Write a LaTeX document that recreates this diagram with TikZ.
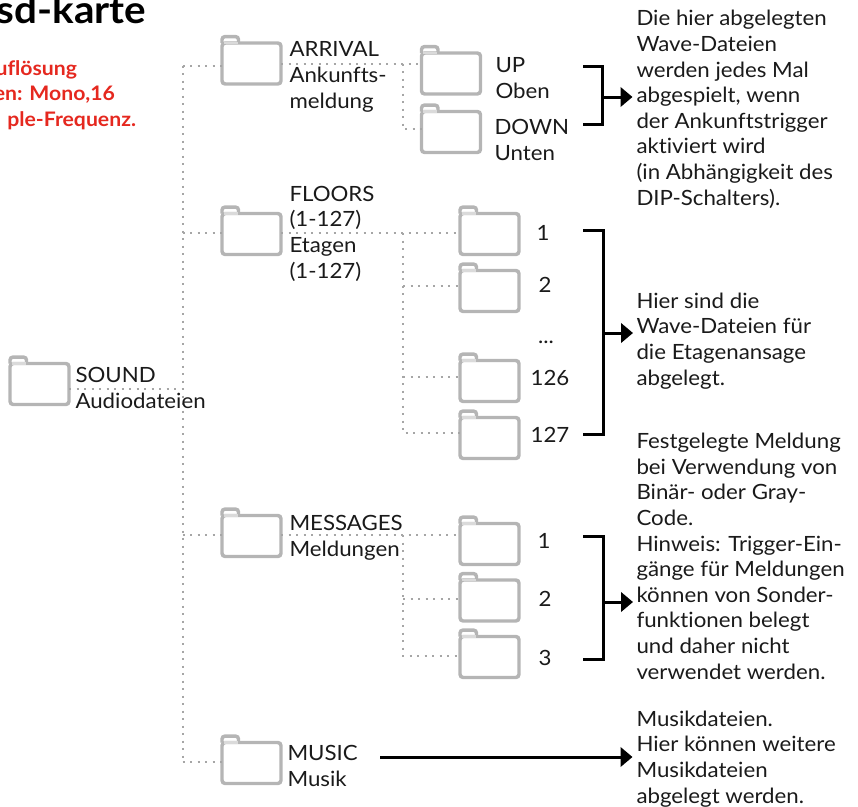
\documentclass[tikz,border=0pt]{standalone}
\usepackage{fontspec}
\setmainfont{Lato}[FakeStretch=1.06,Ligatures=NoCommon]
\usetikzlibrary{arrows.meta}
\definecolor{folderc}{HTML}{B5B5B5}
\definecolor{tablight}{HTML}{DADADA}
\definecolor{dotc}{HTML}{A6A6A6}
\definecolor{textc}{HTML}{1A1A1A}
\definecolor{redc}{HTML}{E5281F}
\tikzset{
  x=0.75pt,y=-0.75pt,
  folderbody/.style={draw=folderc,fill=white,line width=2.6pt,rounded corners=2.4pt,minimum width=44.25pt,minimum height=30.75pt,inner sep=0pt,outer sep=0pt},
  foldertab/.style={draw=folderc,line width=2.6pt,rounded corners=2.2pt},
  tabline/.style={draw=tablight,line width=1.6pt},
  dotline/.style={draw=dotc,line width=1.5pt,dash pattern=on 1.5pt off 4.125pt},
  bracketline/.style={draw=black,line width=2.25pt},
  arrowline/.style={draw=black,line width=2.25pt,-{Triangle[length=9pt,width=14.5pt]}},
  lbl/.style={inner sep=0pt,outer sep=0pt,anchor=base west,align=left,text=textc,font=\fontsize{15.75}{19.2}\selectfont},
  num/.style={inner sep=0pt,outer sep=0pt,anchor=base,text=textc,font=\fontsize{15.75}{19.2}\selectfont},
  redtxt/.style={inner sep=0pt,outer sep=0pt,anchor=base east,text=redc,font=\fontsize{15}{19}\selectfont\bfseries},
  titletxt/.style={inner sep=0pt,outer sep=0pt,anchor=base east,text=black,font=\fontsize{28.6}{32}\selectfont\bfseries},
}
\begin{document}
\begin{tikzpicture}
\useasboundingbox (0,0) rectangle (858,807);
\node[titletxt] (title) at (146,23) {sd-karte};
\node[redtxt] (red1) at (77,75) {uflösung};
\node[redtxt] (red2) at (115,100) {en: Mono,16};
\node[redtxt] (red3) at (136,126) {ple-Frequenz.};
% folders
\foreach \n/\x/\y in {sound/39.5/384,arrival/251.5/63.5,floors/251.5/234,messages/251.5/536,music/251.5/763,
  up/451/73.5,down/451/132,
  fa/489.5/234,fb/489.5/291,fc/489.5/381,fd/489.5/438,
  ma/489.5/544,mb/489.5/600.5,mc/489.5/657}{
  \node[folderbody] (\n) at (\x,\y) {};
  \draw[foldertab] (\n.north west) -- ++(0,-6.4) -- ++(16.5,0) -- ++(0,6.4);
  \draw[tabline] ([xshift=1.4pt]\n.north west) -- ++(14,0);
}
% trunk
\coordinate (tA) at (182.5,65.5);
\coordinate (tS) at (182.5,388.7);
\coordinate (tF) at (182.5,233);
\coordinate (tM) at (182.5,535);
\coordinate (tZ) at (182.5,762);
\draw[dotline] (tA) -- (tZ);
\draw[dotline] (tA) -- (tA -| arrival.west);
\draw[dotline] (tF) -- (tF -| floors.west);
\draw[dotline] (tM) -- (tM -| messages.west);
\draw[dotline] (tZ) -- (tZ -| music.west);
\draw[dotline] (tS -| sound.east) -- (tS);
% arrival branch
\coordinate (aT) at (403,63.5);
\coordinate (aD) at (403,129);
\draw[dotline] (aT -| arrival.east) -- (aT -| up.west);
\draw[dotline] (aT) -- (aD) -- (aD -| down.west);
% floors branch
\coordinate (fT) at (403,233);
\coordinate (fB) at (403,286);
\coordinate (fC) at (403,377);
\coordinate (fD) at (403,433);
\draw[dotline] (fT -| floors.east) -- (fT -| fa.west);
\draw[dotline] (fT) -- (fD) -- (fD -| fd.west);
\draw[dotline] (fB) -- (fB -| fb.west);
\draw[dotline] (fC) -- (fC -| fc.west);
% messages branch
\coordinate (mT) at (403,535);
\coordinate (mB) at (403,599);
\coordinate (mC) at (403,656);
\draw[dotline] (mT -| messages.east) -- (mT -| ma.west);
\draw[dotline] (mT) -- (mC) -- (mC -| mc.west);
\draw[dotline] (mB) -- (mB -| mb.west);
% labels
\node[lbl] (tsound) at (75.5,408) {SOUND\\Audiodateien};
\node[lbl] (tarrival) at (289.5,108) {ARRIVAL\\Ankunfts-\\meldung};
\node[lbl] (tfloors) at (289.5,278) {FLOORS\\(1-127)\\Etagen\\(1-127)};
\node[lbl] (tmessages) at (289.5,556) {MESSAGES\\Meldungen};
\node[lbl] (tmusic) at (287.5,786) {MUSIC\\Musik};
\node[lbl] (tup) at (495.5,98) {UP\\Oben};
\node[lbl] (tdown) at (494.5,160) {DOWN\\Unten};
\node[num] (na) at (543,240) {1};
\node[num] (nb) at (545,292) {2};
\node[num] (nc) at (546,343) {...};
\node[num] (nd) at (550,385) {126};
\node[num] (ne) at (550,442) {127};
\node[num] (oa) at (544,548) {1};
\node[num] (ob) at (545,606) {2};
\node[num] (oc) at (545,665) {3};
% right-hand texts
\node[lbl] (d1) at (636.5,205) {Die hier abgelegten\\Wave-Dateien\\werden jedes Mal\\abgespielt, wenn\\der Ankunftstrigger\\aktiviert wird\\(in Abhängigkeit des\\DIP-Schalters).};
\node[lbl] (d2) at (636.5,385) {Hier sind die\\Wave-Dateien für\\die Etagenansage\\abgelegt.};
\node[lbl] (d3) at (636.5,679) {Festgelegte Meldung\\bei Verwendung von\\Binär- oder Gray-\\Code.\\Hinweis: Trigger-Ein-\\gänge für Meldungen\\können von Sonder-\\funktionen belegt\\und daher nicht\\verwendet werden.};
\node[lbl] (d4) at (636.5,803) {Musikdateien.\\Hier können weitere\\Musikdateien\\abgelegt werden.};
% brackets
\coordinate (b1s) at (602,97); \coordinate (b1e) at (632.5,97);
\coordinate (b2s) at (603,333); \coordinate (b2e) at (633,333);
\coordinate (b3s) at (603,602); \coordinate (b3e) at (633,602);
\coordinate (b4s) at (380,757); \coordinate (b4e) at (632.5,757);
\draw[bracketline] (583,66) -- (602,66) -- (602,124) -- (583,124);
\draw[bracketline] (583,230) -- (603,230) -- (603,434) -- (583,434);
\draw[bracketline] (583,536) -- (603,536) -- (603,659) -- (583,659);
\draw[arrowline] (b1s) -- (b1e);
\draw[arrowline] (b2s) -- (b2e);
\draw[arrowline] (b3s) -- (b3e);
\draw[arrowline] (b4s) -- (b4e);
\end{tikzpicture}
\end{document}
